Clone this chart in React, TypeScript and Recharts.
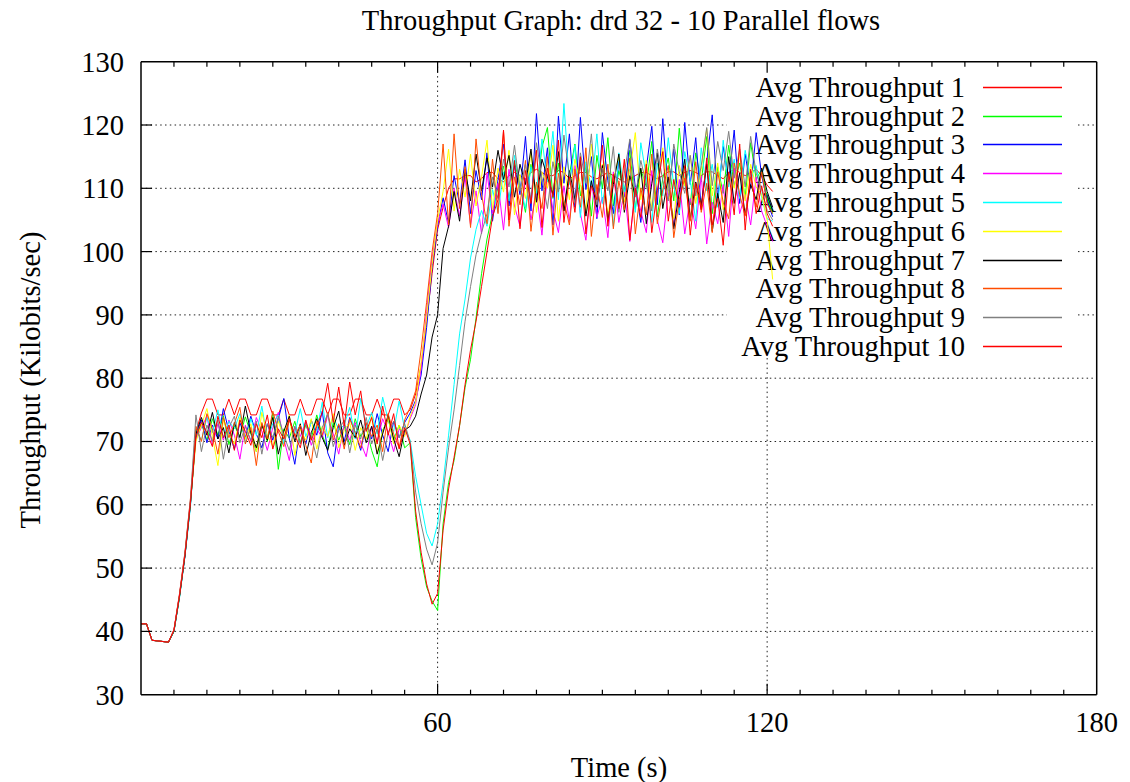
import React from "react";
import { LineChart, Line, XAxis, YAxis, CartesianGrid, Legend } from "recharts";

// time in seconds, one sample per second
const times = [
  6, 7, 8, 9, 10, 11, 12, 13, 14, 15,
  16, 17, 18, 19, 20, 21, 22, 23, 24, 25,
  26, 27, 28, 29, 30, 31, 32, 33, 34, 35,
  36, 37, 38, 39, 40, 41, 42, 43, 44, 45,
  46, 47, 48, 49, 50, 51, 52, 53, 54, 55,
  56, 57, 58, 59, 60, 61, 62, 63, 64, 65,
  66, 67, 68, 69, 70, 71, 72, 73, 74, 75,
  76, 77, 78, 79, 80, 81, 82, 83, 84, 85,
  86, 87, 88, 89, 90, 91, 92, 93, 94, 95,
  96, 97, 98, 99, 100, 101, 102, 103, 104, 105,
  106, 107, 108, 109, 110, 111, 112, 113, 114, 115,
  116, 117, 118, 119, 120, 121,
];

const xTicks = [6, 12, 18, 24, 30, 36, 42, 48, 54, 60, 66, 72, 78, 84, 90, 96, 102, 108, 114, 120, 126, 132, 138, 144, 150, 156, 162, 168, 174, 180];
const yTicks = [30, 40, 50, 60, 70, 80, 90, 100, 110, 120, 130];
const gridX = [60, 120];
const gridY = [40, 50, 60, 70, 80, 90, 100, 110, 120];

const seriesNames = [
  "Avg Throughput 1", "Avg Throughput 2", "Avg Throughput 3", "Avg Throughput 4", "Avg Throughput 5",
  "Avg Throughput 6", "Avg Throughput 7", "Avg Throughput 8", "Avg Throughput 9", "Avg Throughput 10",
];
const seriesColors = ["#ff0000", "#00ff00", "#0000ff", "#ff00ff", "#00ffff", "#ffff00", "#000000", "#ff4d00", "#808080", "#ff0000"];

const avg1 = [
  41.2, 41.2, 38.6, 38.5, 38.4, 38.3, 40.2, 45.6, 52.0, 60.2,
  71.5, 74.5, 76.7, 76.7, 74.2, 74.2, 76.7, 74.2, 76.7, 76.7,
  74.2, 74.2, 76.7, 76.7, 74.2, 74.2, 76.7, 74.2, 74.2, 76.7,
  74.2, 74.2, 76.7, 76.7, 74.2, 76.7, 76.7, 74.2, 74.2, 76.7,
  76.7, 74.2, 74.2, 76.7, 74.2, 74.2, 76.7, 76.7, 74.2, 75.0,
  77.5, 82.0, 89.0, 96.5, 103.5, 107.0, 110.0, 111.5, 111.5, 112.0,
  112.0, 111.0, 111.5, 112.5, 112.5, 111.5, 111.0, 112.0, 112.5, 112.0,
  111.5, 112.5, 113.0, 112.5, 112.0, 112.0, 112.8, 112.5, 111.5, 112.0,
  112.5, 112.5, 111.8, 111.5, 112.0, 112.5, 112.0, 111.5, 111.0, 111.5,
  112.0, 112.5, 112.5, 112.0, 111.5, 112.0, 112.6, 112.6, 112.0, 112.5,
  112.8, 112.5, 112.0, 112.6, 112.6, 112.0, 111.5, 112.5, 113.0, 112.5,
  112.0, 112.5, 113.0, 112.0, 110.5, 109.5,
];
const avg2 = [
  41.2, 41.2, 38.6, 38.5, 38.4, 38.3, 40.0, 45.4, 52.1, 60.4,
  70.6, 72.8, 70.2, 73.6, 71.0, 74.1, 69.5, 72.5, 70.8, 73.9,
  71.2, 68.4, 72.8, 70.0, 74.5, 65.6, 72.0, 70.5, 73.2, 69.8,
  72.6, 70.4, 74.2, 71.0, 68.8, 73.0, 70.2, 72.4, 69.5, 73.6,
  70.8, 72.2, 68.6, 66.0, 71.8, 73.5, 70.2, 72.6, 69.0, 69.8,
  58.0, 51.5, 47.0, 44.8, 43.3, 57.0, 63.5, 67.0, 72.5, 78.5,
  83.0, 89.5, 96.5, 102.0, 106.0, 110.2, 113.5, 108.0, 114.2, 110.5,
  106.2, 113.8, 109.0, 116.5, 119.6, 108.4, 114.0, 106.5, 112.2, 117.0,
  108.8, 113.5, 105.6, 115.2, 110.0, 118.0, 107.2, 112.8, 109.5, 116.0,
  106.8, 113.0, 110.2, 117.4, 105.5, 111.6, 114.8, 108.0, 119.5, 110.6,
  107.4, 115.6, 111.0, 118.2, 106.0, 113.4, 109.2, 116.8, 110.4, 114.0,
  108.6, 117.2, 111.4, 113.0, 108.5, 106.0,
];
const avg3 = [
  41.2, 41.2, 38.6, 38.5, 38.4, 38.3, 40.1, 45.5, 52.0, 60.0,
  71.0, 73.4, 69.8, 72.6, 70.4, 75.2, 71.6, 68.8, 73.0, 70.6,
  74.0, 71.2, 69.0, 72.8, 70.2, 73.6, 76.8, 70.5, 66.4, 72.4,
  69.6, 73.4, 71.0, 74.8, 68.2, 66.0, 72.6, 70.0, 73.8, 71.4,
  68.6, 72.8, 70.4, 74.4, 71.0, 68.4, 73.2, 70.6, 73.0, 74.5,
  76.5, 80.5, 88.0, 97.5, 104.0, 108.5, 104.5, 112.0, 107.5, 114.5,
  106.0, 112.8, 108.2, 115.6, 104.8, 111.4, 117.0, 107.2, 113.6, 109.0,
  118.2, 106.4, 121.8, 109.6, 116.4, 104.2, 121.4, 110.8, 118.6, 107.0,
  121.2, 109.8, 115.0, 105.2, 118.8, 111.2, 106.0, 114.4, 108.6, 117.6,
  110.2, 104.6, 113.2, 119.8, 107.4, 121.0, 109.0, 116.2, 105.8, 120.4,
  110.6, 118.0, 106.8, 114.2, 121.6, 108.2, 116.6, 111.0, 119.2, 107.6,
  115.4, 110.0, 118.8, 112.0, 108.0, 105.5,
];
const avg4 = [
  41.2, 41.2, 38.6, 38.5, 38.4, 38.3, 40.2, 45.8, 52.3, 60.6,
  70.4, 72.2, 74.0, 69.4, 72.8, 70.2, 73.4, 71.0, 67.2, 72.6,
  70.0, 73.8, 71.6, 68.6, 72.2, 74.6, 70.4, 67.0, 72.4, 70.8,
  73.2, 69.4, 72.0, 70.6, 74.2, 71.2, 68.0, 72.8, 70.2, 73.0,
  69.8, 67.6, 72.4, 70.0, 73.6, 71.4, 68.4, 72.0, 71.0, 73.6,
  75.8, 81.5, 90.5, 99.0, 104.5, 107.5, 103.8, 110.0, 105.6, 111.8,
  104.2, 109.6, 102.8, 112.4, 106.0, 110.8, 103.4, 113.0, 107.2, 104.0,
  111.6, 105.0, 109.4, 102.6, 112.2, 106.6, 103.0, 110.4, 104.8, 113.6,
  106.0, 101.8, 111.0, 105.4, 108.6, 102.2, 112.6, 104.6, 109.8, 101.6,
  110.2, 106.4, 103.0, 112.8, 105.0, 101.4, 109.6, 104.0, 111.4, 102.8,
  108.4, 103.6, 112.0, 101.2, 107.8, 104.4, 110.6, 102.4, 113.2, 106.0,
  109.0, 104.2, 111.8, 106.4, 104.0, 101.6,
];
const avg5 = [
  41.2, 41.2, 38.6, 38.5, 38.4, 38.3, 40.0, 45.2, 51.8, 59.6,
  71.8, 70.2, 73.8, 71.4, 75.0, 70.6, 73.2, 72.0, 74.4, 69.8,
  73.6, 71.0, 75.6, 70.4, 72.8, 74.2, 69.6, 73.4, 71.2, 75.2,
  70.8, 73.0, 71.6, 76.2, 70.6, 74.0, 71.8, 72.6, 75.4, 70.4,
  76.8, 72.2, 74.6, 71.2, 77.0, 73.4, 71.6, 76.4, 72.0, 70.2,
  64.5, 60.0, 55.5, 53.5, 57.0, 63.5, 71.0, 79.0, 87.0, 92.5,
  99.0, 103.5, 106.5, 104.0, 109.8, 106.2, 112.6, 108.0, 115.2, 110.4,
  106.8, 113.4, 109.2, 117.8, 111.0, 119.0, 108.2, 123.4, 110.6, 116.8,
  105.4, 114.2, 110.0, 118.6, 107.6, 112.8, 104.0, 115.6, 109.4, 113.0,
  106.2, 117.2, 111.8, 104.6, 114.0, 108.8, 118.0, 110.4, 106.0, 115.8,
  111.2, 104.8, 116.4, 109.6, 113.8, 107.0, 117.6, 110.2, 114.6, 108.4,
  116.0, 111.6, 113.6, 108.6, 105.2, 104.8,
];
const avg6 = [
  41.2, 41.2, 38.6, 38.5, 38.4, 38.3, 40.1, 45.6, 52.2, 60.3,
  70.0, 72.6, 75.2, 70.8, 66.2, 73.4, 71.2, 69.6, 73.8, 70.4,
  72.8, 68.4, 74.6, 71.0, 69.2, 73.2, 70.6, 74.2, 67.8, 72.0,
  70.2, 73.6, 68.8, 72.4, 70.8, 74.4, 69.0, 71.8, 73.0, 68.6,
  72.2, 70.4, 74.0, 68.2, 71.6, 73.8, 69.6, 72.6, 70.8, 74.0,
  76.2, 82.5, 89.5, 98.0, 105.0, 109.5, 116.2, 106.4, 113.0, 108.6,
  115.4, 107.2, 111.8, 117.6, 106.6, 113.2, 109.4, 116.0, 105.8, 112.2,
  108.4, 115.8, 106.2, 112.6, 110.0, 116.8, 104.8, 113.4, 108.2, 114.6,
  110.6, 106.4, 117.0, 109.0, 113.8, 105.6, 111.4, 115.0, 107.8, 112.6,
  118.8, 108.2, 114.4, 106.8, 111.6, 116.4, 109.6, 105.2, 113.6, 110.4,
  115.2, 107.6, 113.0, 119.4, 108.8, 114.0, 106.6, 112.4, 110.0, 115.6,
  108.0, 113.8, 110.2, 109.0, 105.0, 95.6,
];
const avg7 = [
  41.2, 41.2, 38.6, 38.5, 38.4, 38.3, 40.0, 45.4, 51.9, 60.1,
  71.2, 73.8, 71.0, 74.6, 70.4, 72.2, 68.2, 73.0, 70.6, 75.6,
  71.4, 69.0, 72.6, 70.2, 73.8, 68.0, 71.6, 74.0, 70.0, 72.8,
  67.8, 71.4, 73.6, 70.6, 68.6, 72.2, 74.8, 69.4, 72.0, 70.6,
  73.4, 69.8, 72.4, 68.0, 71.2, 74.2, 70.4, 67.6, 71.8, 72.4,
  74.0, 77.5, 80.5, 86.5, 90.0, 100.5, 104.0, 109.5, 104.8, 113.0,
  108.0, 115.4, 109.6, 114.8, 110.2, 116.0, 111.4, 115.2, 108.6, 113.8,
  110.6, 116.2, 107.8, 114.6, 111.8, 109.0, 115.8, 106.4, 112.8, 108.2,
  114.4, 105.6, 111.2, 107.0, 113.6, 104.8, 110.6, 115.4, 106.2, 112.0,
  108.8, 113.2, 104.4, 110.8, 115.6, 106.8, 111.8, 103.6, 109.4, 114.6,
  105.0, 111.0, 107.4, 113.8, 103.2, 109.2, 104.6, 115.0, 107.6, 112.4,
  105.8, 110.6, 108.2, 113.2, 109.5, 107.0,
];
const avg8 = [
  41.2, 41.2, 38.6, 38.5, 38.4, 38.3, 40.3, 45.9, 52.5, 61.0,
  72.4, 70.0, 74.4, 72.0, 68.0, 73.8, 70.6, 72.8, 75.4, 69.6,
  72.2, 66.2, 73.0, 70.4, 74.8, 71.6, 69.2, 73.4, 70.8, 72.6,
  69.4, 66.6, 73.2, 71.0, 74.6, 70.2, 72.8, 68.8, 73.6, 71.4,
  69.0, 73.0, 70.8, 72.6, 68.4, 74.4, 71.2, 69.0, 73.4, 75.4,
  78.0, 84.5, 92.0, 100.0, 106.0, 117.0, 104.2, 118.6, 106.8, 113.4,
  103.8, 117.8, 109.0, 104.4, 114.6, 106.0, 119.0, 104.0, 111.8, 107.4,
  114.4, 103.2, 111.0, 106.8, 115.0, 102.6, 112.4, 108.0, 104.2, 113.0,
  107.0, 116.4, 102.4, 110.6, 105.4, 113.8, 103.6, 111.2, 106.6, 114.8,
  102.8, 110.0, 105.8, 115.4, 104.4, 109.8, 113.6, 102.2, 108.2, 111.6,
  104.8, 114.2, 106.2, 110.8, 103.0, 112.6, 107.8, 105.2, 114.0, 109.0,
  105.6, 111.8, 107.0, 112.6, 107.5, 106.0,
];
const avg9 = [
  41.2, 41.2, 38.6, 38.5, 38.4, 38.3, 40.1, 45.7, 52.4, 60.8,
  74.2, 68.4, 72.6, 70.0, 73.4, 67.2, 72.2, 74.0, 69.8, 72.4,
  70.2, 73.2, 68.0, 72.8, 70.6, 74.0, 71.0, 68.6, 72.4, 69.6,
  73.0, 70.8, 67.4, 72.2, 74.4, 69.2, 71.8, 73.4, 68.2, 72.6,
  70.4, 73.8, 69.6, 72.0, 67.0, 71.4, 73.2, 70.6, 72.8, 70.0,
  62.0, 57.0, 53.0, 50.5, 54.0, 62.0, 69.0, 75.0, 82.0, 89.0,
  94.5, 99.5, 103.0, 106.0, 111.8, 108.4, 114.6, 110.2, 116.8, 109.6,
  113.8, 108.0, 117.2, 111.6, 106.8, 114.2, 109.4, 118.4, 112.0, 107.6,
  115.6, 110.8, 118.6, 107.4, 113.2, 109.6, 116.6, 106.2, 112.4, 117.8,
  108.6, 114.4, 110.6, 106.4, 116.2, 111.2, 108.0, 117.0, 112.6, 109.2,
  115.2, 108.8, 113.6, 119.6, 110.4, 117.4, 112.8, 119.0, 111.6, 116.2,
  110.2, 118.2, 112.4, 109.8, 106.5, 105.0,
];
const avg10 = [
  41.2, 41.2, 38.6, 38.5, 38.4, 38.3, 40.2, 45.6, 52.1, 60.4,
  70.8, 73.0, 71.4, 69.2, 74.0, 70.6, 72.6, 68.6, 73.4, 71.6,
  69.4, 72.8, 70.6, 74.2, 68.8, 72.0, 70.4, 73.6, 71.0, 69.0,
  73.4, 70.2, 72.4, 74.6, 79.2, 73.0, 78.6, 72.4, 79.4, 74.2,
  78.0, 71.6, 73.8, 69.6, 75.6, 71.0, 74.4, 68.8, 72.2, 69.6,
  59.0, 52.5, 47.5, 44.3, 46.0, 56.0, 62.5, 67.5, 72.5, 79.0,
  84.5, 89.0, 94.5, 100.0, 105.5, 108.2, 119.2, 105.0, 114.4, 103.6,
  112.8, 107.6, 116.0, 103.8, 113.2, 108.6, 117.6, 104.6, 111.8, 106.2,
  115.0, 102.8, 110.4, 108.2, 116.8, 104.0, 112.2, 106.8, 114.6, 101.8,
  110.0, 105.4, 113.8, 103.0, 109.6, 115.8, 104.8, 111.4, 107.0, 113.6,
  102.6, 110.8, 106.6, 114.8, 104.2, 108.4, 101.0, 112.6, 105.8, 117.0,
  103.4, 113.0, 106.0, 110.4, 106.0, 104.0,
];

const seriesValues = [avg1, avg2, avg3, avg4, avg5, avg6, avg7, avg8, avg9, avg10];

const rows = times.map((t, i) => {
  const r: Record<string, number> = { t };
  seriesValues.forEach((vals, k) => {
    r["s" + (k + 1)] = vals[i];
  });
  return r;
});

const W = 1130;
const H = 782;
const PL = 141;
const PR = 1096.7;
const PT = 61.7;
const PB = 694.7;
const FONT = "'Liberation Serif', 'Times New Roman', serif";
const FS = 28.5;
// axis band sizes (they must be > 0 or recharts skips the axis)
const AX_B = 40;
const AX_T = 10;
const AX_L = 60;
const AX_R = 10;
// gnuplot leaves the grid out where the key sits
const KEY = { left: 727, right: 1078, top: 62, bottom: 358 };
const dotted = { stroke: "#222", strokeWidth: 1, strokeDasharray: "1.5 3.3" };

const hGrid = ({ yAxis }: any) =>
  gridY.map(v => (typeof yAxis?.scale === "function" ? yAxis.scale(v) : PB - ((v - 30) * (PB - PT)) / 100));
const vGrid = ({ xAxis }: any) =>
  gridX.map(v => (typeof xAxis?.scale === "function" ? xAxis.scale(v) : PL + ((v - 6) * (PR - PL)) / 174));

const hLine = (p: any) => {
  const { x1, x2, y1, index } = p;
  if (y1 >= KEY.top && y1 <= KEY.bottom) {
    return (
      <g key={"h" + index}>
        <line x1={x1} x2={KEY.left} y1={y1} y2={y1} {...dotted} />
        <line x1={KEY.right} x2={x2} y1={y1} y2={y1} {...dotted} />
      </g>
    );
  }
  return <line key={"h" + index} x1={x1} x2={x2} y1={y1} y2={y1} {...dotted} />;
};
const vLine = (p: any) => {
  const { x1, y1, y2, index } = p;
  const top = x1 >= KEY.left && x1 <= KEY.right ? KEY.bottom : y1;
  return <line key={"v" + index} x1={x1} x2={x1} y1={top} y2={y2} {...dotted} />;
};

const BottomTick = (p: any) => {
  const v = p.payload.value;
  const major = v % 60 === 0;
  return (
    <g>
      {v > 6 && v < 180 && <line x1={p.x} x2={p.x} y1={PB} y2={PB - (major ? 11 : 5)} stroke="#000" strokeWidth={1.2} />}
      {major && (
        <text x={p.x} y={732} textAnchor="middle" fontFamily={FONT} fontSize={FS} fill="#000">
          {v}
        </text>
      )}
    </g>
  );
};
const TopTick = (p: any) => {
  const v = p.payload.value;
  const major = v % 60 === 0;
  if (v <= 6 || v >= 180) return <g />;
  return <line x1={p.x} x2={p.x} y1={PT} y2={PT + (major ? 11 : 5)} stroke="#000" strokeWidth={1.2} />;
};
const LeftTick = (p: any) => {
  const v = p.payload.value;
  return (
    <g>
      {v > 30 && v < 130 && <line x1={PL} x2={PL + 11} y1={p.y} y2={p.y} stroke="#000" strokeWidth={1.2} />}
      <text x={PL - 17} y={p.y} dy="0.35em" textAnchor="end" fontFamily={FONT} fontSize={FS} fill="#000">
        {v}
      </text>
    </g>
  );
};
const RightTick = (p: any) => {
  const v = p.payload.value;
  if (v <= 30 || v >= 130) return <g />;
  return <line x1={PR} x2={PR - 11} y1={p.y} y2={p.y} stroke="#000" strokeWidth={1.2} />;
};

const renderKey = (props: any) => {
  const items = [...(props.payload || [])].sort(
    (a: any, b: any) => seriesNames.indexOf(a.value) - seriesNames.indexOf(b.value)
  );
  return (
    <svg width={W} height={H} style={{ display: "block" }}>
      {items.map((e: any, i: number) => {
        const cy = Math.round(86.7 + i * 28.8) + 0.5;
        const k = seriesNames.indexOf(e.value);
        return (
          <g key={e.value}>
            <text x={965} y={cy} dy="0.35em" textAnchor="end" fontFamily={FONT} fontSize={FS} fill="#000">
              {e.value}
            </text>
            <line x1={983} x2={1062} y1={cy} y2={cy} stroke={seriesColors[k]} strokeWidth={1.5} />
          </g>
        );
      })}
    </svg>
  );
};

export default function App() {
  const frame = { stroke: "#000", strokeWidth: 1.5 };
  return (
    <div style={{ position: "absolute", left: 0, top: 0, width: W, height: H, background: "#fff", zIndex: 0, overflow: "hidden" }}>
      <LineChart
        width={W}
        height={H}
        data={rows}
        margin={{ top: PT - AX_T, right: W - PR - AX_R, bottom: H - PB - AX_B, left: PL - AX_L }}
      >
        <CartesianGrid
          xAxisId="b"
          yAxisId="l"
          horizontalCoordinatesGenerator={hGrid}
          verticalCoordinatesGenerator={vGrid}
          horizontal={hLine}
          vertical={vLine}
        />
        <XAxis xAxisId="b" dataKey="t" type="number" domain={[6, 180]} ticks={xTicks} interval={0} height={AX_B}
          axisLine={frame} tickLine={false} tickSize={0} tick={(p: any) => <BottomTick {...p} />} />
        <XAxis xAxisId="tp" orientation="top" dataKey="t" type="number" domain={[6, 180]} ticks={xTicks} interval={0} height={AX_T}
          axisLine={frame} tickLine={false} tickSize={0} tick={(p: any) => <TopTick {...p} />} />
        <YAxis yAxisId="l" type="number" domain={[30, 130]} ticks={yTicks} interval={0} width={AX_L}
          axisLine={frame} tickLine={false} tickSize={0} tick={(p: any) => <LeftTick {...p} />} />
        <YAxis yAxisId="r" orientation="right" type="number" domain={[30, 130]} ticks={yTicks} interval={0} width={AX_R}
          axisLine={frame} tickLine={false} tickSize={0} tick={(p: any) => <RightTick {...p} />} />
        <Legend layout="horizontal" verticalAlign="middle" align="center" content={renderKey}
          wrapperStyle={{ left: 0, top: 0, width: W, height: H, zIndex: -1 }} />
        {seriesNames.map((name, k) => (
          <Line key={name} xAxisId="b" yAxisId="l" type="linear" dataKey={"s" + (k + 1)} name={name}
            stroke={seriesColors[k]} strokeWidth={1} dot={false} activeDot={false} isAnimationActive={false} />
        ))}
      </LineChart>
      <svg width={W} height={H} style={{ position: "absolute", left: 0, top: 0, pointerEvents: "none" }}>
        <text x={621} y={30} textAnchor="middle" fontFamily={FONT} fontSize={FS} fill="#000">
          Throughput Graph: drd 32 - 10 Parallel flows
        </text>
        <text x={619} y={777} textAnchor="middle" fontFamily={FONT} fontSize={FS} fill="#000">
          Time (s)
        </text>
        <text x={40} y={380} textAnchor="middle" fontFamily={FONT} fontSize={FS} fill="#000" transform="rotate(-90 40 380)">
          Throughput (Kilobits/sec)
        </text>
      </svg>
    </div>
  );
}
